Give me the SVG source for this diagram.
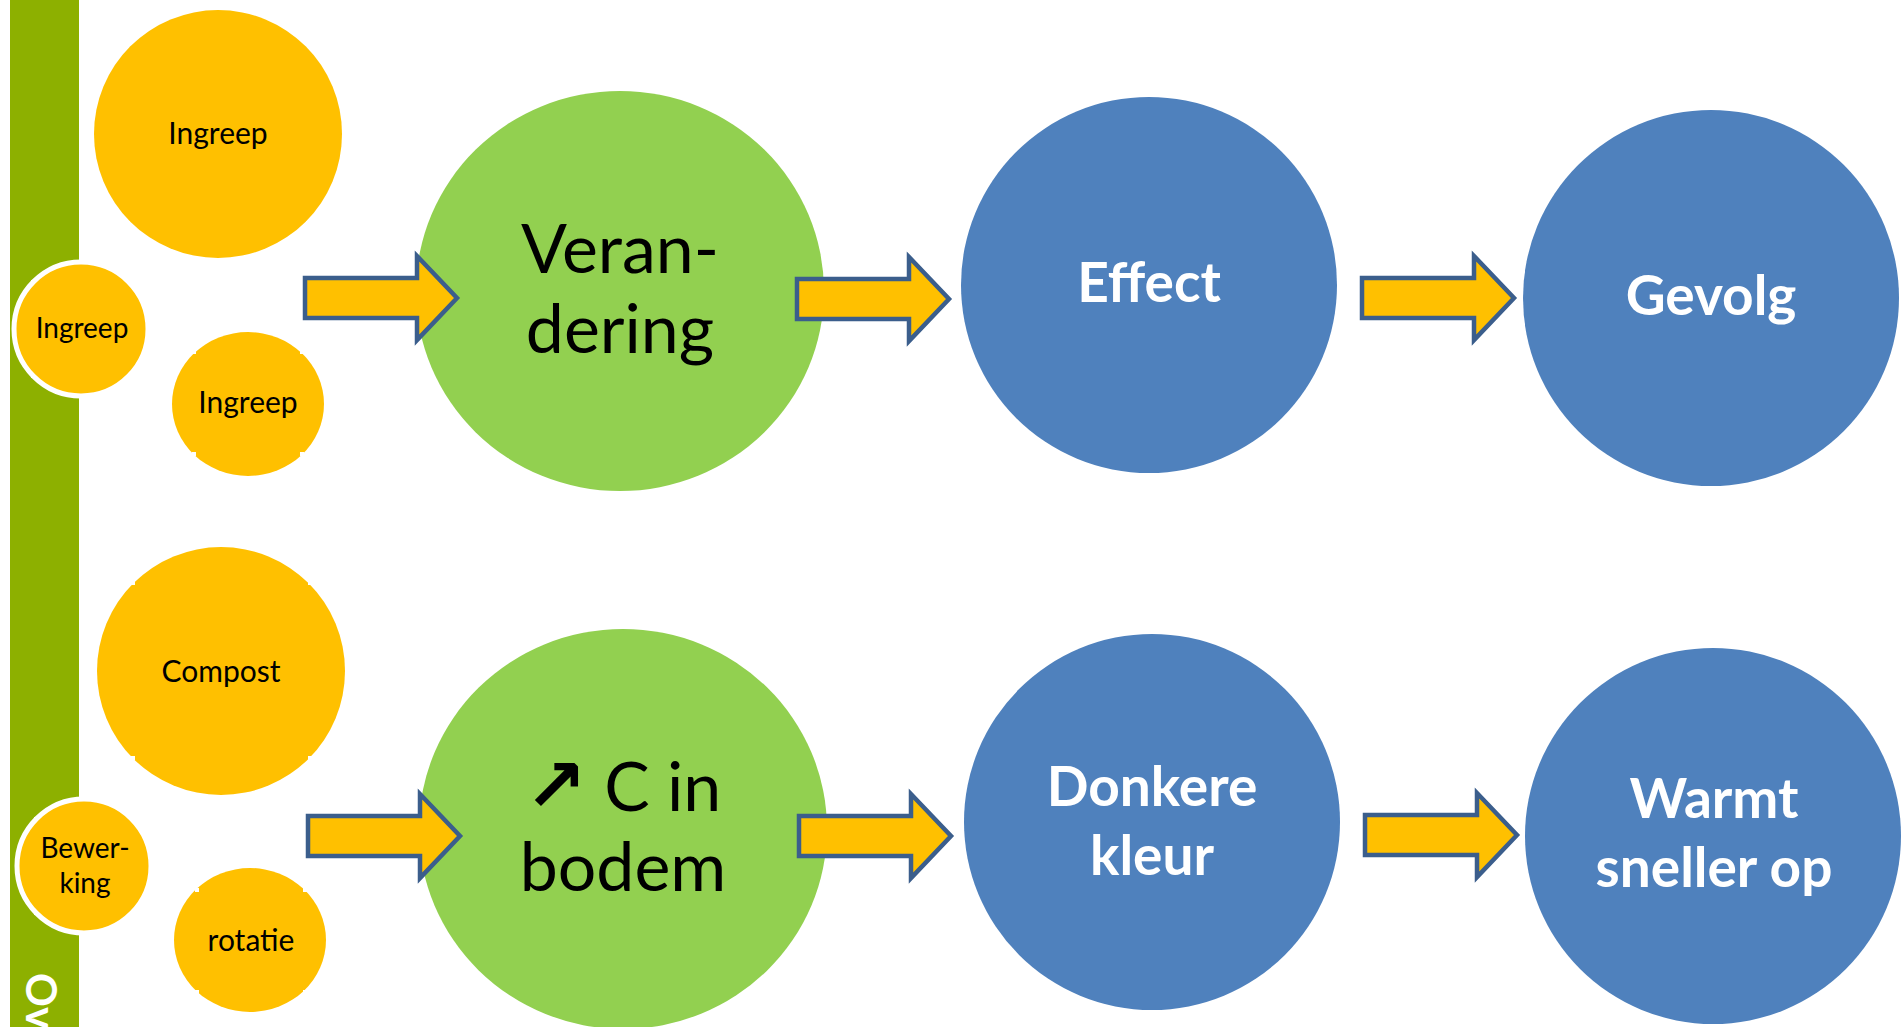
<svg xmlns="http://www.w3.org/2000/svg" width="1901" height="1027" viewBox="0 0 1901 1027">
  <style>
    .bar { fill: #8DB000; }
    .bar-title { font-family: Lato, "Liberation Sans", sans-serif; font-weight: bold; font-size: 42px; fill: #FFFFFF; }
    .cause { fill: #FFC000; }
    .cause-ring { fill: #FFC000; stroke: #FFFFFF; stroke-width: 5; }
    .notch { fill: #FFFFFF; }
    .cause-text { font-family: Lato, "Liberation Sans", sans-serif; font-size: 30px; fill: #000000; text-anchor: middle; }
    .change { fill: #92D050; }
    .change-text { font-family: Lato, "DejaVu Sans", sans-serif; font-size: 68px; fill: #000000; text-anchor: middle; }
    .sym { font-family: "DejaVu Sans", sans-serif; font-weight: bold; font-size: 74px; }
    .result { fill: #4F81BD; }
    .result-text { font-family: Lato, "Liberation Sans", sans-serif; font-weight: bold; font-size: 55px; fill: #FFFFFF; text-anchor: middle; }
    .block-arrow { fill: #FFC000; stroke: #3B5E8C; stroke-width: 4.5; stroke-linejoin: miter; }
  </style>
  <defs>
    <!-- block arrow: body starts at x=0, tip at (152,0) -->
    <path id="blockArrow" d="M0,-20 H112 V-42 L152,0 L112,42 V20 H0 Z"/>
    <!-- tiny white nick on the rim of the yellow circles -->
    <rect id="nick" class="notch" x="-2" y="-2" width="4" height="4"/>
  </defs>

  <rect width="1901" height="1027" fill="#FFFFFF"/>

  <!-- vertical side bar with title -->
  <g id="side-bar">
    <rect class="bar" x="10" y="0" width="69" height="1027"/>
    <text class="bar-title" transform="translate(26,973) rotate(90)">Ov</text>
  </g>

  <!-- upper row -->
  <g id="ingreep-1">
    <circle class="cause" cx="218" cy="134" r="124"/>
    <use href="#nick" x="128" y="44"/><use href="#nick" x="308" y="44"/>
    <use href="#nick" x="128" y="223"/><use href="#nick" x="308" y="223"/>
    <text class="cause-text" x="218" y="144">Ingreep</text>
  </g>
  <g id="ingreep-2">
    <circle class="cause-ring" cx="81" cy="329" r="67"/>
    <use href="#nick" x="33" y="282"/><use href="#nick" x="129" y="282"/>
    <use href="#nick" x="33" y="376"/><use href="#nick" x="129" y="376"/>
    <text class="cause-text" x="82" y="338" style="font-size:28px">Ingreep</text>
  </g>
  <g id="ingreep-3">
    <ellipse class="cause" cx="248" cy="404" rx="76" ry="72"/>
    <use href="#nick" x="194" y="352"/><use href="#nick" x="302" y="352"/>
    <use href="#nick" x="194" y="454"/><use href="#nick" x="302" y="454"/>
    <text class="cause-text" x="248" y="413">Ingreep</text>
  </g>
  <g id="verandering">
    <ellipse class="change" cx="620" cy="291" rx="204" ry="200"/>
    <text class="change-text" x="620" y="273">Veran-</text>
    <text class="change-text" x="620" y="353">dering</text>
  </g>
  <g id="effect">
    <circle class="result" cx="1149" cy="285" r="188"/>
    <text class="result-text" x="1149" y="302">Effect</text>
  </g>
  <g id="gevolg">
    <circle class="result" cx="1711" cy="298" r="188"/>
    <text class="result-text" x="1711" y="315">Gevolg</text>
  </g>

  <!-- lower row -->
  <g id="compost">
    <circle class="cause" cx="221" cy="671" r="124"/>
    <use href="#nick" x="133" y="583"/><use href="#nick" x="310" y="583"/>
    <use href="#nick" x="133" y="758"/><use href="#nick" x="310" y="758"/>
    <text class="cause-text" x="221" y="682">Compost</text>
  </g>
  <g id="bewerking">
    <circle class="cause-ring" cx="84" cy="866" r="67"/>
    <use href="#nick" x="36" y="819"/><use href="#nick" x="132" y="819"/>
    <use href="#nick" x="36" y="913"/><use href="#nick" x="132" y="913"/>
    <text class="cause-text" x="85" y="858" style="font-size:28px">Bewer-</text>
    <text class="cause-text" x="85" y="893" style="font-size:28px">king</text>
  </g>
  <g id="rotatie">
    <ellipse class="cause" cx="250" cy="940" rx="76" ry="72"/>
    <use href="#nick" x="197" y="890"/><use href="#nick" x="305" y="890"/>
    <use href="#nick" x="197" y="992"/><use href="#nick" x="305" y="992"/>
    <text class="cause-text" x="251" y="951">rotatie</text>
  </g>
  <g id="c-in-bodem">
    <ellipse class="change" cx="623" cy="829" rx="204" ry="200"/>
    <text class="change-text" x="623" y="811"><tspan class="sym">↗</tspan> C in</text>
    <text class="change-text" x="623" y="891">bodem</text>
  </g>
  <g id="donkere-kleur">
    <circle class="result" cx="1152" cy="822" r="188"/>
    <text class="result-text" x="1152" y="806">Donkere</text>
    <text class="result-text" x="1152" y="875">kleur</text>
  </g>
  <g id="warmt-sneller-op">
    <circle class="result" cx="1713" cy="836" r="188"/>
    <text class="result-text" x="1714" y="818">Warmt</text>
    <text class="result-text" x="1714" y="887">sneller op</text>
  </g>

  <!-- connectors -->
  <g id="connectors">
    <use href="#blockArrow" class="block-arrow" transform="translate(305,298)"/>
    <use href="#blockArrow" class="block-arrow" transform="translate(797,299)"/>
    <use href="#blockArrow" class="block-arrow" transform="translate(1362,298)"/>
    <use href="#blockArrow" class="block-arrow" transform="translate(308,836)"/>
    <use href="#blockArrow" class="block-arrow" transform="translate(799,836)"/>
    <use href="#blockArrow" class="block-arrow" transform="translate(1365,835)"/>
  </g>
</svg>
